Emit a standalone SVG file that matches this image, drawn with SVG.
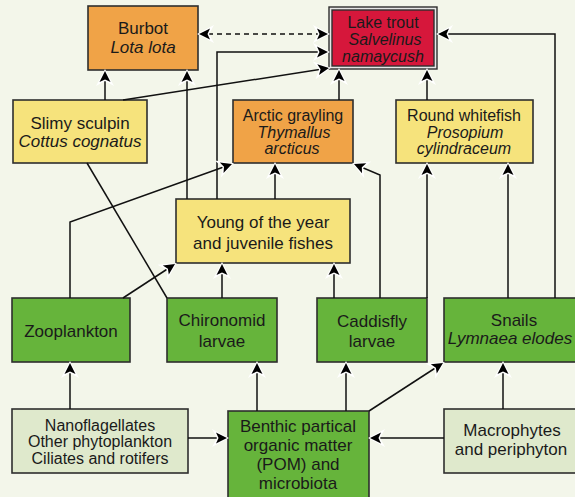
<svg xmlns="http://www.w3.org/2000/svg" width="575" height="497" viewBox="0 0 575 497">
<style>
text{font-family:"Liberation Sans",Arial,sans-serif;font-size:17px;fill:#1a1a1a;text-anchor:middle}
.i{font-style:italic}
.s{font-size:16px}
.box{stroke:#2e2e2e;stroke-width:1.6}
.or{fill:#f0a347}
.ye{fill:#f6e37c}
.gr{fill:#66b43b}
.lg{fill:#dfe9cc}
.c{fill:none;stroke:#111;stroke-width:1.5}
.a{marker-end:url(#ah)}
</style>
<defs>
<marker id="ah" viewBox="-17 -10 20 20" refX="0" refY="0" markerWidth="20" markerHeight="20" orient="auto-start-reverse" markerUnits="userSpaceOnUse">
<path d="M2,0 L-15,-9 L-10,0 L-15,9 Z" fill="#fff"/>
<path d="M0,0 L-11,-5.5 L-8.5,0 L-11,5.5 Z" fill="#000"/>
</marker>
</defs>
<rect width="575" height="497" fill="#f3f6ea"/>

<g id="burbot"><rect class="box or" x="88" y="6" width="110" height="64"/><text x="143" y="34">Burbot</text><text class="i" x="143" y="53">Lota lota</text></g>
<g id="laketrout"><rect x="329" y="7" width="108" height="62" fill="#e6e6e6" stroke="#2e2e2e" stroke-width="1.4"/><rect x="332" y="10" width="102" height="56" fill="#d6173b" stroke="#2e2e2e" stroke-width="1.4"/><text class="s" x="383" y="28">Lake trout</text><text class="i s" x="385" y="45">Salvelinus</text><text class="i s" x="383" y="62">namaycush</text></g>
<g id="sculpin"><rect class="box ye" x="13" y="100" width="134" height="63"/><text x="80" y="129">Slimy sculpin</text><text class="i" x="80" y="147">Cottus cognatus</text></g>
<g id="grayling"><rect class="box or" x="233" y="100" width="120" height="63"/><text class="s" x="293" y="121">Arctic grayling</text><text class="i s" x="294" y="137.5">Thymallus</text><text class="i s" x="292" y="154">arcticus</text></g>
<g id="whitefish"><rect class="box ye" x="396" y="100" width="137" height="63"/><text class="s" x="464" y="121">Round whitefish</text><text class="i s" x="465" y="137.5">Prosopium</text><text class="i s" x="464" y="154">cylindraceum</text></g>
<g id="yoy"><rect class="box ye" x="176" y="199" width="174" height="64"/><text x="263" y="228">Young of the year</text><text x="263" y="249">and juvenile fishes</text></g>
<g id="zooplankton"><rect class="box gr" x="12" y="298" width="118" height="64"/><text x="71" y="337">Zooplankton</text></g>
<g id="chironomid"><rect class="box gr" x="167" y="298" width="110" height="64"/><text x="222" y="326">Chironomid</text><text x="222" y="347">larvae</text></g>
<g id="caddisfly"><rect class="box gr" x="317" y="298" width="110" height="64"/><text x="372" y="327">Caddisfly</text><text x="372" y="347">larvae</text></g>
<g id="snails"><rect class="box gr" x="444" y="298" width="134" height="64"/><text x="514" y="326">Snails</text><text class="i" x="510" y="344">Lymnaea elodes</text></g>
<g id="nano"><rect class="box lg" x="12" y="409" width="176" height="64"/><text class="s" x="100" y="431">Nanoflagellates</text><text class="s" x="100" y="447">Other phytoplankton</text><text class="s" x="100" y="463.5">Ciliates and rotifers</text></g>
<g id="pom"><rect class="box gr" x="228" y="411" width="141" height="90"/><text x="298" y="432">Benthic partical</text><text x="298" y="451">organic matter</text><text x="298" y="469.5">(POM) and</text><text x="298" y="488.5">microbiota</text></g>
<g id="macrophytes"><rect class="box lg" x="444" y="409" width="134" height="64"/><text x="512" y="436">Macrophytes</text><text x="511" y="455">and periphyton</text></g>

<g id="connectors">
<path class="c" d="M199,34 H328" stroke-dasharray="5,4" marker-start="url(#ah)" marker-end="url(#ah)"/>
<path class="c a" d="M105,100 V71"/>
<path class="c a" d="M187,199 V71"/>
<path class="c a" d="M217,199 V52 H328"/>
<path class="c a" d="M123,100 L329,68"/>
<path class="c a" d="M339,100 V70"/>
<path class="c a" d="M427,100 V70"/>
<path class="c a" d="M555,298 V34 H438"/>
<path class="c a" d="M70,298 V222 L232,164"/>
<path class="c" d="M87,163 L167,298"/>
<path class="c a" d="M123,298 L175,264"/>
<path class="c a" d="M222,298 V264"/>
<path class="c a" d="M275,199 V164"/>
<path class="c a" d="M334,298 V264"/>
<path class="c a" d="M380,298 V175 L354,164"/>
<path class="c a" d="M427,298 V164"/>
<path class="c a" d="M508,298 V164"/>
<path class="c a" d="M70,409 V363"/>
<path class="c a" d="M257,411 V363"/>
<path class="c a" d="M346,411 V363"/>
<path class="c a" d="M369,411 L443,363"/>
<path class="c a" d="M503,409 V363"/>
<path class="c a" d="M444,438 H370"/>
<path class="c a" d="M188,438 H227"/>
</g>
</svg>
